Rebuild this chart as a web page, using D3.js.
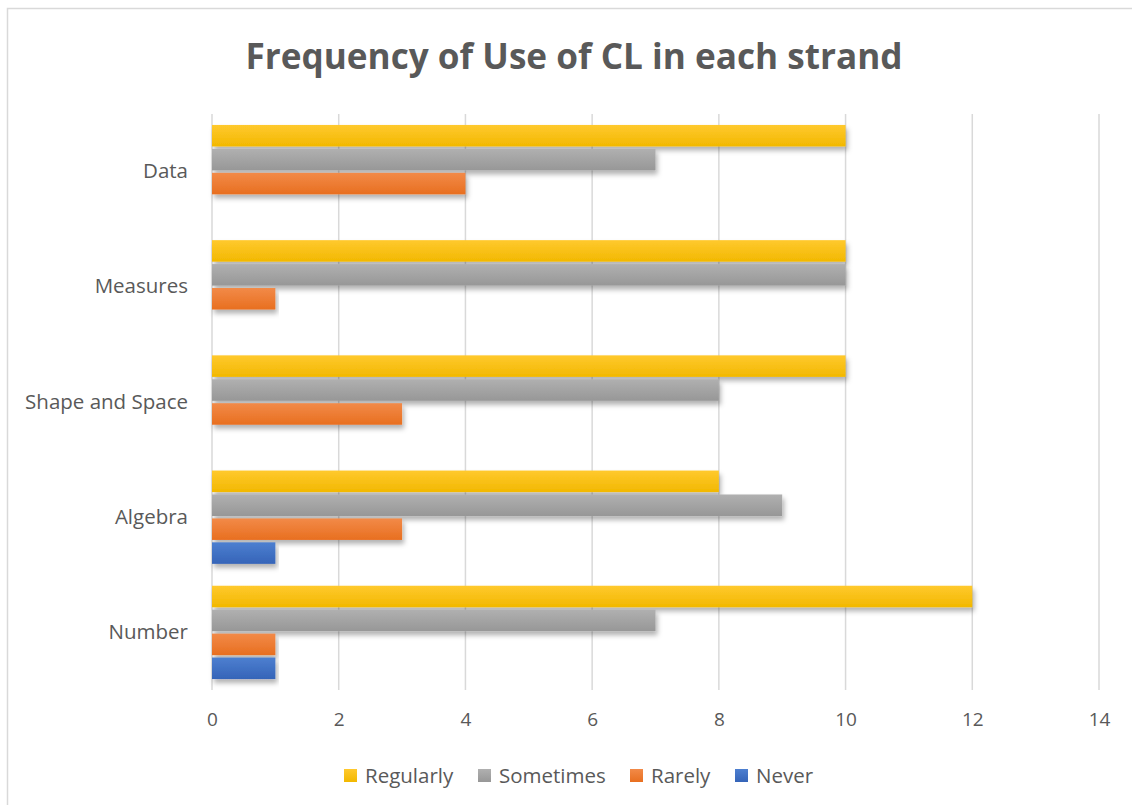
<!DOCTYPE html>
<html>
<head>
<meta charset="utf-8">
<title>Frequency of Use of CL</title>
<script src="https://d3js.org/d3.v7.min.js"></script>
<style>
  html, body { margin: 0; padding: 0; background: #fff; }
  svg { font-family: "Open Sans", "Noto Sans", sans-serif; }
</style>
</head>
<body>
<div id="chart"></div>
<script>
// data
const categories = ['Data', 'Measures', 'Shape and Space', 'Algebra', 'Number']
const series = ['Regularly', 'Sometimes', 'Rarely', 'Never']
const regularly = [10, 10, 10, 8, 12]
const sometimes = [7, 10, 8, 9, 7]
const rarely = [4, 1, 3, 3, 1]
const never = [0, 0, 0, 1, 1]
const xTicks = [0, 2, 4, 6, 8, 10, 12, 14]

const colors = {
  Regularly: ['#ffc92e', '#f2b800'],
  Sometimes: ['#b0b0b0', '#979797'],
  Rarely: ['#f28a48', '#e86f20'],
  Never: ['#4d7fd0', '#3564b8']
}

const values = { Regularly: regularly, Sometimes: sometimes, Rarely: rarely, Never: never }

const W = 1132, H = 805
const svg = d3.select('#chart').append('svg').attr('width', W).attr('height', H)

const defs = svg.append('defs')
series.forEach((s, i) => {
  const g = defs.append('linearGradient').attr('id', 'grad' + i)
    .attr('x1', 0).attr('y1', 0).attr('x2', 0).attr('y2', 1)
  g.append('stop').attr('offset', '0%').attr('stop-color', colors[s][0])
  g.append('stop').attr('offset', '100%').attr('stop-color', colors[s][1])
})
const f = defs.append('filter').attr('id', 'shadow')
  .attr('x', '-5%').attr('y', '-20%').attr('width', '110%').attr('height', '170%')
f.append('feDropShadow').attr('dx', 2).attr('dy', 4).attr('stdDeviation', 2.5)
  .attr('flood-color', '#000').attr('flood-opacity', 0.3)

// chart border
svg.append('rect').attr('x', 7.5).attr('y', 8.5).attr('width', W).attr('height', H)
  .attr('fill', 'none').attr('stroke', '#d9d9d9').attr('stroke-width', 1.5)

// title
svg.append('text')
  .attr('x', 574).attr('y', 69)
  .attr('text-anchor', 'middle')
  .attr('font-size', 35).attr('font-weight', 'bold')
  .attr('fill', '#595959')
  .attr('textLength', 657).attr('lengthAdjust', 'spacingAndGlyphs')
  .text('Frequency of Use of CL in each strand')

const plot = { left: 212, right: 1099, top: 114, bottom: 690 }

const x = d3.scaleLinear().domain([0, 14]).range([plot.left, plot.right])
const y0 = d3.scaleBand().domain(categories).range([plot.top, plot.bottom])
  .paddingInner(0.19).paddingOuter(0.095)
const y1 = d3.scaleBand().domain(series).range([0, y0.bandwidth()]).paddingInner(0.1)

// gridlines
svg.append('g').selectAll('line').data(xTicks).enter().append('line')
  .attr('x1', d => x(d)).attr('x2', d => x(d))
  .attr('y1', plot.top).attr('y2', plot.bottom)
  .attr('stroke', '#d9d9d9').attr('stroke-width', 1.5)

// x axis labels
const xAxis = svg.append('g').attr('transform', `translate(0,${plot.bottom})`)
  .call(d3.axisBottom(x).tickValues(xTicks).tickSize(0).tickPadding(23))
xAxis.select('.domain').remove()
xAxis.selectAll('text').attr('font-size', 19).attr('fill', '#595959')
  .attr('font-family', '"Open Sans", sans-serif')

// y axis labels
const yAxis = svg.append('g').attr('transform', `translate(${plot.left},0)`)
  .call(d3.axisLeft(y0).tickSize(0).tickPadding(24))
yAxis.select('.domain').remove()
yAxis.selectAll('text').attr('font-size', 20.5).attr('fill', '#595959')
  .attr('font-family', '"Open Sans", sans-serif')

// bars
const groups = svg.append('g').selectAll('g').data(categories).enter().append('g')
  .attr('transform', d => `translate(0,${y0(d)})`)

groups.selectAll('rect')
  .data((c, ci) => series.map((s, si) => ({ s, si, v: values[s][ci] })).filter(d => d.v > 0))
  .enter().append('rect')
  .attr('x', x(0))
  .attr('y', d => y1(d.s))
  .attr('width', d => x(d.v) - x(0))
  .attr('height', y1.bandwidth())
  .attr('fill', d => `url(#grad${d.si})`)
  .attr('filter', 'url(#shadow)')

// legend
const legendX = [344, 478, 630, 735]
const legend = svg.append('g').selectAll('g').data(series).enter().append('g')
  .attr('transform', (d, i) => `translate(${legendX[i]},769)`)
legend.append('rect').attr('width', 13).attr('height', 13)
  .attr('fill', (d, i) => `url(#grad${i})`)
legend.append('text').attr('x', 21).attr('y', 14)
  .attr('font-size', 20.5).attr('fill', '#595959')
  .text(d => d)
</script>
</body>
</html>
